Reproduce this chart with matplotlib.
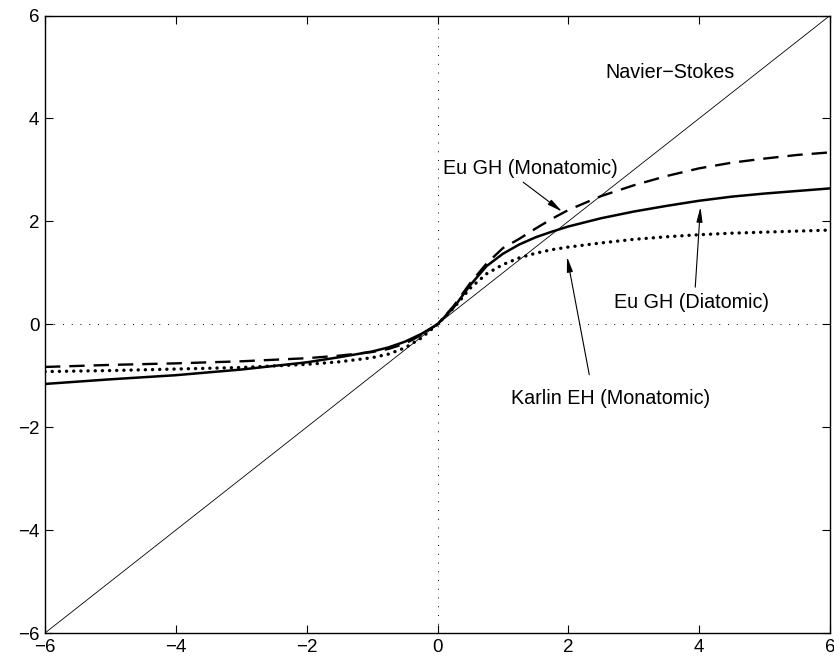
import matplotlib
matplotlib.use("Agg")
import matplotlib.pyplot as plt

plt.rcParams['font.family'] = ['Liberation Sans', 'DejaVu Sans']

# Data
x_vals = [-6, -5, -4, -3, -2, -1.5, -1, -0.75, -0.5, -0.25, 0, 0.25, 0.5, 0.75,
          1, 1.25, 1.5, 1.75, 2, 2.5, 3, 3.5, 4, 4.5, 5, 5.5, 6]
eu_gh_diatomic = [-1.16, -1.07, -0.99, -0.88, -0.74, -0.64, -0.53, -0.45, -0.34, -0.19,
                  0, 0.33, 0.76, 1.13, 1.37, 1.55, 1.69, 1.80, 1.90, 2.06, 2.19, 2.30,
                  2.40, 2.48, 2.54, 2.59, 2.64]
eu_gh_monatomic = [-0.83, -0.79, -0.76, -0.72, -0.66, -0.61, -0.54, -0.48, -0.38, -0.21,
                   0, 0.36, 0.80, 1.18, 1.48, 1.66, 1.86, 2.05, 2.22, 2.49, 2.70, 2.88,
                   3.03, 3.14, 3.22, 3.29, 3.34]
karlin_eh_monatomic = [-0.92, -0.90, -0.87, -0.84, -0.78, -0.73, -0.65, -0.58, -0.46, -0.27,
                       0, 0.32, 0.70, 0.98, 1.16, 1.29, 1.38, 1.45, 1.50, 1.58, 1.65, 1.70,
                       1.74, 1.77, 1.79, 1.81, 1.83]
ns_x = [-6, 6]
ns_y = [-6, 6]
ticks = [-6, -4, -2, 0, 2, 4, 6]

fig = plt.figure(figsize=(8.34, 6.6), dpi=100)
ax = fig.add_axes([45 / 834, 27 / 660, 785 / 834, 617.5 / 660])

# zero reference lines
ax.axhline(0, color='black', lw=0.7, ls=(0, (1, 8)), zorder=1)
ax.axvline(0, color='black', lw=0.7, ls=(0, (1, 8)), zorder=1)

ax.plot(ns_x, ns_y, color='black', lw=0.6, zorder=2)
ax.plot(x_vals, eu_gh_diatomic, color='black', lw=1.8, zorder=3)
ax.plot(x_vals, eu_gh_monatomic, color='black', lw=1.7, ls=(0, (6.5, 3.8)), zorder=3)
ax.plot(x_vals, karlin_eh_monatomic, color='black', lw=2.4, ls=(0, (0.05, 2.1)),
        dash_capstyle='round', zorder=3)

ax.set_xlim(-6, 6)
ax.set_ylim(-6, 6)
ax.set_xticks(ticks)
ax.set_yticks(ticks)
ax.tick_params(direction='in', length=5.5, width=0.8, top=True, right=True,
               labelsize=13.5, pad=4)
for s in ax.spines.values():
    s.set_linewidth(1.0)

fs = 14.2
ap = dict(arrowstyle='-|>,head_length=0.9,head_width=0.18', color='black', lw=0.8,
          shrinkA=0, shrinkB=0)

ax.text(3.56, 4.90, 'Navier\u2212Stokes', ha='center', va='center', fontsize=fs)
ax.text(1.42, 3.03, 'Eu GH (Monatomic)', ha='center', va='center', fontsize=fs)
ax.annotate('', xy=(1.905, 2.19), xytext=(1.31, 2.76), arrowprops=ap)
ax.text(3.89, 0.43, 'Eu GH (Diatomic)', ha='center', va='center', fontsize=fs)
ax.annotate('', xy=(4.02, 2.28), xytext=(3.94, 0.72), arrowprops=ap)
ax.text(2.65, -1.45, 'Karlin EH (Monatomic)', ha='center', va='center', fontsize=fs)
ax.annotate('', xy=(1.98, 1.31), xytext=(2.32, -0.98), arrowprops=ap)

fig.savefig('out.png', dpi=100)
